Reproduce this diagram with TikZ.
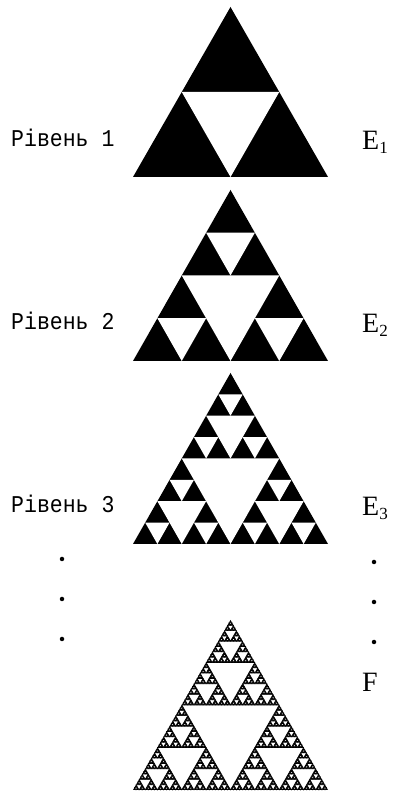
\documentclass[tikz,border=0pt]{standalone}
\usepackage{fontspec}
\newfontfamily\labfont{Liberation Mono}
\newfontfamily\efont{Liberation Serif}
\newcommand\sierhole[6]{% depth, apex x, apex y, half width, height, hole style
 \ifnum#1>0
  \begingroup
  \pgfmathsetmacro\qw{#4/2}%
  \pgfmathsetmacro\hh{#5/2}%
  \pgfmathsetmacro\xl{#2-\qw}%
  \pgfmathsetmacro\xr{#2+\qw}%
  \pgfmathsetmacro\ym{#3-\hh}%
  \pgfmathsetmacro\yb{#3-#5}%
  \pgfmathtruncatemacro\dd{#1-1}%
  \path[#6] (\xl pt,\ym pt) -- (\xr pt,\ym pt) -- (#2 pt,\yb pt) -- cycle;
  \edef\nxt{\noexpand\sierhole{\dd}{#2}{#3}{\qw}{\hh}{#6}%
            \noexpand\sierhole{\dd}{\xl}{\ym}{\qw}{\hh}{#6}%
            \noexpand\sierhole{\dd}{\xr}{\ym}{\qw}{\hh}{#6}}%
  \nxt
  \endgroup
 \fi}
\newcommand\siertri[5]{% depth, apex x, apex y, height, hole style
 \fill[black] (#2pt,#3pt) -- ({#2pt-97.5pt},{#3pt-#4pt}) -- ({#2pt+97.5pt},{#3pt-#4pt}) -- cycle;
 \sierhole{#1}{#2}{#3}{97.5}{#4}{#5}}
\tikzset{
  hole/.style={fill=white},
  finehole/.style={fill=white, draw=black, line width=0.7pt, line join=round},
  lvl/.style={anchor=base west, inner sep=0pt, font=\labfont\fontsize{21.5}{24}\selectfont, yscale=1.12},
  elab/.style={anchor=base west, inner sep=0pt, font=\efont\fontsize{28}{30}\selectfont},
  dotm/.style={fill=black, circle, inner sep=0pt, minimum size=4.5pt}
}
\newcommand\esub[1]{E\raisebox{-4pt}{\fontsize{17}{17}\selectfont #1}}
\begin{document}
\begin{tikzpicture}[x=1pt,y=1pt]
\useasboundingbox (0,0) rectangle (397,794);
% triangles
\siertri{1}{230.5}{787}{170}{hole}
\siertri{2}{230.5}{604}{171}{hole}
\siertri{3}{230.5}{421}{171}{hole}
\siertri{6}{230.5}{174}{170}{finehole}
% labels
\node[lvl] (l1) at (11,647) {Рівень 1};
\node[lvl] (l2) at (11,464) {Рівень 2};
\node[lvl] (l3) at (11,281) {Рівень 3};
\node[elab] (e1) at (362,644) {\esub{1}};
\node[elab] (e2) at (362,461) {\esub{2}};
\node[elab] (e3) at (362,278) {\esub{3}};
\node[elab] (f) at (362,102) {F};
% dots
\node[dotm] (dl1) at (62,235) {};
\node[dotm] (dl2) at (62,195) {};
\node[dotm] (dl3) at (62,155) {};
\node[dotm] (dr1) at (374,232) {};
\node[dotm] (dr2) at (374,192) {};
\node[dotm] (dr3) at (374,152) {};
\end{tikzpicture}
\end{document}
